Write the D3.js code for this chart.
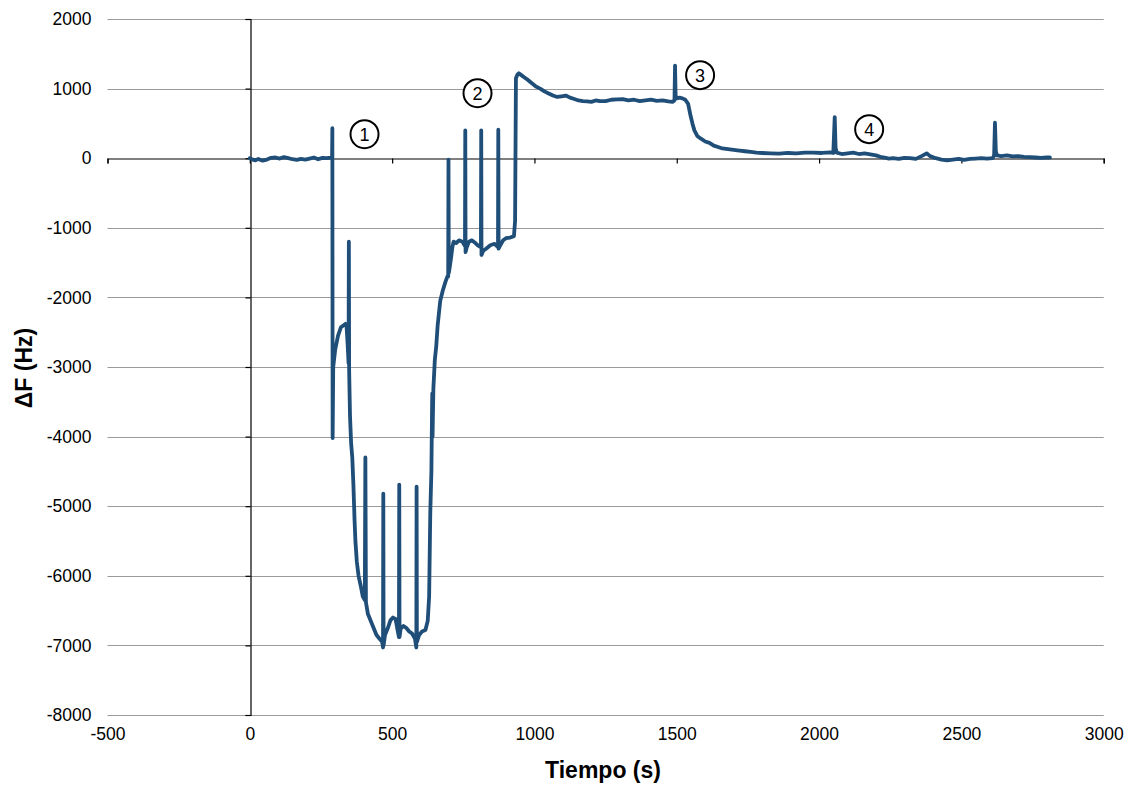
<!DOCTYPE html>
<html>
<head>
<meta charset="utf-8">
<script src="https://cdn.jsdelivr.net/npm/d3@7"></script>
<style>
  html, body { margin: 0; padding: 0; background: #fff; }
  svg { display: block; font-family: "Liberation Sans", Arial, sans-serif; }
</style>
</head>
<body>
<svg id="chart" width="1127" height="787"></svg>
<script>
// Frequency shift of the sensor over time (s, Hz)
const tiempo = [
  0, 10, 20, 30, 45, 60, 75, 90, 105, 120, 135, 150, 165, 180, 195, 210, 225, 240, 255, 270, 285, 289,
  290, 291, 293, 300, 310, 320, 330, 336, 340, 344, 347, 348, 349, 352, 356, 360, 364, 368, 371, 376,
  382, 390, 397, 404, 406, 408, 415, 425, 435, 445, 455, 465, 468, 469, 470, 475, 485, 494, 503, 512,
  520, 524, 525, 526, 530, 540, 550, 560, 570, 580, 585, 586, 587, 595, 605, 617, 625, 630, 634, 638,
  640, 641, 642, 645, 650, 655, 660, 669, 678, 687, 694, 697, 698, 699, 703, 708, 712, 716, 725, 735,
  747, 756, 757, 758, 762, 770, 780, 790, 800, 812, 813, 814, 820, 830, 845, 860, 872, 873, 874, 880,
  890, 900, 915, 928, 932, 935, 940, 945, 955, 965, 975, 990, 1005, 1020, 1035, 1050, 1065, 1080, 1095,
  1110, 1125, 1140, 1155, 1170, 1185, 1200, 1215, 1230, 1250, 1270, 1290, 1310, 1330, 1350, 1370, 1390,
  1410, 1430, 1450, 1470, 1485, 1492, 1494, 1496, 1500, 1510, 1520, 1530, 1540, 1548, 1555, 1562, 1572,
  1585, 1600, 1615, 1630, 1645, 1660, 1680, 1700, 1720, 1740, 1760, 1780, 1800, 1830, 1860, 1890, 1920,
  1950, 1980, 2010, 2040, 2050, 2055, 2058, 2062, 2080, 2100, 2120, 2140, 2160, 2180, 2200, 2215, 2230,
  2245, 2260, 2280, 2300, 2320, 2340, 2360, 2378, 2390, 2410, 2430, 2450, 2470, 2490, 2510, 2530, 2550,
  2570, 2590, 2610, 2615, 2618, 2621, 2625, 2640, 2660, 2680, 2700, 2720, 2740, 2760, 2780, 2800, 2811
];
const deltaF = [
  0, -20, -30, -10, -35, -20, 5, 10, -5, 15, 0, -15, -25, -10, -20, -5, 10, -15, 5, 0, 10, 0,
  430, -4020, -3000, -2750, -2550, -2430, -2400, -2380, -2420, -2700, -2950, -1200, -3050, -3700, -4100, -4300, -4700, -5200, -5500, -5800,
  -6000, -6150, -6300, -6350, -4300, -6380, -6550, -6650, -6750, -6850, -6900, -6950, -7030, -4820, -7000, -6850, -6750, -6640, -6600, -6620,
  -6800, -6880, -4690, -6880, -6760, -6720, -6750, -6800, -6830, -6900, -7030, -4720, -6950, -6850, -6800, -6780, -6650, -6300, -5100, -4500,
  -3700, -3380, -4000, -3300, -2900, -2700, -2400, -2050, -1900, -1780, -1700, -1700, -20, -1650, -1550, -1400, -1270, -1200, -1220, -1180,
  -1200, -1260, 400, -1350, -1280, -1200, -1180, -1210, -1250, -1280, 400, -1390, -1330, -1300, -1250, -1230, -1280, 410, -1300, -1250,
  -1180, -1150, -1140, -1120, -900, 1150, 1200, 1220, 1190, 1160, 1130, 1080, 1030, 1000, 960, 930, 900, 880, 890,
  900, 870, 850, 830, 820, 815, 810, 830, 820, 820, 840, 845, 850, 830, 840, 820, 830,
  840, 825, 830, 815, 810, 830, 1330, 900, 860, 870, 860, 840, 780, 620, 500, 400, 320,
  280, 240, 220, 180, 160, 140, 130, 120, 110, 100, 90, 80, 75, 70, 65, 75, 70,
  80, 80, 75, 85, 75, 590, 150, 80, 60, 70, 80, 60, 70, 55, 40, 20, 10,
  -5, 0, -10, 5, 0, -10, 30, 70, 30, 0, -20, -30, -20, -10, -25, -10, -5,
  0, -5, 0, 40, 510, 100, 40, 30, 40, 25, 30, 20, 15, 10, 5, 10, 10
];

// Numbered event markers
const marcaEtiquetas = ["1", "2", "3", "4"];
const marcaTiempo = [403, 800, 1582, 2176];
const marcaDeltaF = [345, 934, 1193, 417];

const xTicks = [-500, 0, 500, 1000, 1500, 2000, 2500, 3000];
const yTicks = [-8000, -7000, -6000, -5000, -4000, -3000, -2000, -1000, 0, 1000, 2000];

// Plain hyphen for negative numbers
const fmt = d => String(d);

const svg = d3.select("#chart");

const x = d3.scaleLinear().domain([-500, 3000]).range([107.5, 1103.7]);
const y = d3.scaleLinear().domain([-8000, 2000]).range([715, 19]);

// Horizontal gridlines
svg.append("g")
  .selectAll("line")
  .data(yTicks.filter(v => v !== 0))
  .join("line")
  .attr("x1", x(-500)).attr("x2", x(3000))
  .attr("y1", d => Math.round(y(d)) + 0.5).attr("y2", d => Math.round(y(d)) + 0.5)
  .attr("stroke", "#9a9a9a").attr("stroke-width", 1.2);

// Vertical axis line through t = 0, with ticks pointing left
const yAxisLine = svg.append("g")
  .attr("transform", `translate(${Math.round(x(0)) + 0.5},0)`)
  .call(d3.axisLeft(y).tickValues(yTicks).tickSize(5).tickFormat(""));
yAxisLine.selectAll("path, line").attr("stroke", "#000").attr("stroke-width", 1.2);

// Horizontal axis line through ΔF = 0, with ticks pointing down
const xAxisLine = svg.append("g")
  .attr("transform", `translate(0,${Math.round(y(0)) + 0.5})`)
  .call(d3.axisBottom(x).tickValues(xTicks).tickSizeInner(5).tickSizeOuter(5).tickFormat(""));
xAxisLine.selectAll("path, line").attr("stroke", "#000").attr("stroke-width", 1.2);

// Tick labels placed at the low edge of the plot
const yLabels = svg.append("g")
  .attr("transform", `translate(${x(-500)},0)`)
  .call(d3.axisLeft(y).tickValues(yTicks).tickSize(0).tickPadding(16).tickFormat(fmt));
yLabels.select(".domain").remove();
yLabels.selectAll("text")
  .attr("font-family", "Liberation Sans, Arial, sans-serif")
  .attr("font-size", 17.5).attr("fill", "#000");

const xLabels = svg.append("g")
  .attr("transform", `translate(0,${y(-8000)})`)
  .call(d3.axisBottom(x).tickValues(xTicks).tickSize(0).tickPadding(13).tickFormat(fmt));
xLabels.select(".domain").remove();
xLabels.selectAll("text")
  .attr("font-family", "Liberation Sans, Arial, sans-serif")
  .attr("font-size", 17.5).attr("fill", "#000");

// Axis titles
svg.append("text")
  .attr("x", 603).attr("y", 778)
  .attr("text-anchor", "middle")
  .attr("font-size", 23).attr("font-weight", "bold")
  .text("Tiempo (s)");

svg.append("text")
  .attr("transform", "translate(32,368) rotate(-90)")
  .attr("text-anchor", "middle")
  .attr("font-size", 23).attr("font-weight", "bold")
  .text("ΔF (Hz)");

// Signal trace
const serie = tiempo.map((t, i) => [t, deltaF[i]]);
svg.append("path")
  .datum(serie)
  .attr("fill", "none")
  .attr("stroke", "#1f4e79")
  .attr("stroke-width", 3.8)
  .attr("stroke-linejoin", "round")
  .attr("stroke-linecap", "round")
  .attr("d", d3.line().x(d => x(d[0])).y(d => y(d[1])));

// Circled event numbers
const marcas = svg.append("g")
  .selectAll("g")
  .data(marcaEtiquetas.map((e, i) => ({ e, t: marcaTiempo[i], v: marcaDeltaF[i] })))
  .join("g")
  .attr("transform", d => `translate(${x(d.t)},${y(d.v)})`);
marcas.append("circle")
  .attr("r", 14)
  .attr("fill", "#fff")
  .attr("stroke", "#000")
  .attr("stroke-width", 2);
marcas.append("text")
  .attr("text-anchor", "middle")
  .attr("dy", "0.36em")
  .attr("font-size", 18)
  .text(d => d.e);
</script>
</body>
</html>
